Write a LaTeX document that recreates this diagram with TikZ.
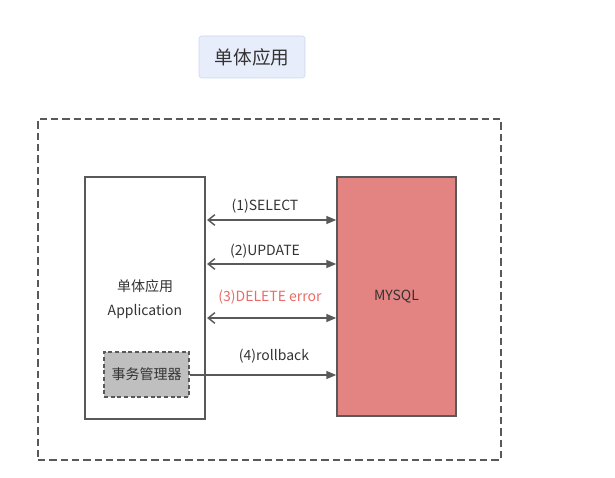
\documentclass[tikz,border=0pt]{standalone}
\usepackage{fontspec}
\setmainfont{Noto Sans CJK SC}
\usetikzlibrary{arrows.meta}
\definecolor{linegray}{HTML}{595959}
\definecolor{titlefill}{HTML}{E8EDFB}
\definecolor{titleline}{HTML}{CDD6EE}
\definecolor{dbfill}{HTML}{E38482}
\definecolor{mgrfill}{HTML}{BFBFBF}
\definecolor{errred}{HTML}{EA6B66}
\def\px{0.75pt}
\begin{document}
\begin{tikzpicture}[x=0.75pt,y=-0.75pt, every node/.style={font=\fontsize{10.5}{12}\selectfont, text=black!80}]
    \useasboundingbox (0,0) rectangle (615,478);
    \tikzset{
      box/.style={draw=linegray, line width=1.1pt, inner sep=0pt},
      biarrow/.style={line width=1.1pt, draw=linegray, {Straight Barb[length=5pt,width=8pt]}-{Triangle[length=7.5pt,width=6pt]}},
      toarrow/.style={line width=1.1pt, draw=linegray, -{Triangle[length=7.5pt,width=6pt]}},
      lbl/.style={inner sep=1pt}
    }
    \node[draw=titleline, fill=titlefill, rounded corners=2pt, minimum width=106*\px, minimum height=42*\px, font=\fontsize{14}{16}\selectfont] (title) at (252,57) {单体应用};
    \node[box, dashed, line width=1.6pt, dash pattern=on 5.5pt off 3pt, minimum width=463*\px, minimum height=341*\px] (frame) at (269.5,289.5) {};
    \node[box, fill=white, minimum width=120*\px, minimum height=242*\px] (app) at (145,298) {};
    \node (appzh) at (145,286) {单体应用};
    \node (appen) at (145,312) {Application};
    \node[box, dashed, line width=0.9pt, dash pattern=on 3pt off 2pt, fill=mgrfill, minimum width=85*\px, minimum height=45*\px] (txmgr) at (146.5,374.5) {事务管理器};
    \node[box, fill=dbfill, minimum width=119*\px, minimum height=239*\px] (mysql) at (396.5,296.5) {MYSQL};
    % arrows
    \draw[biarrow] ([xshift=1pt]app.east |- 0,220) -- (mysql.west |- 0,220);
    \draw[biarrow] ([xshift=1pt]app.east |- 0,264) -- (mysql.west |- 0,264);
    \draw[biarrow] ([xshift=1pt]app.east |- 0,318) -- (mysql.west |- 0,318);
    \draw[toarrow] (txmgr.east |- 0,375) -- (mysql.west |- 0,375);
    \node[lbl] (sel) at (265,206) {(1)SELECT};
    \node[lbl] (upd) at (265,251) {(2)UPDATE};
    \node[lbl, text=errred] (del) at (270,297) {(3)DELETE error};
    \node[lbl] (rb) at (274,356) {(4)rollback};
\end{tikzpicture}
\end{document}
